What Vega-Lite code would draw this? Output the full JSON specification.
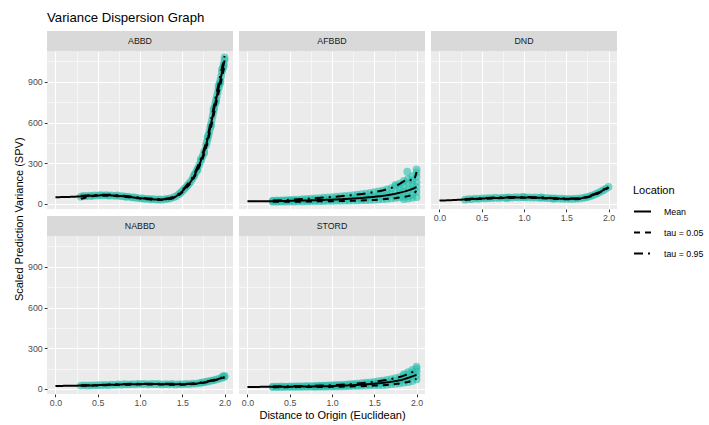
{
"$schema": "https://vega.github.io/schema/vega-lite/v6.json",
"padding": {"left": 13, "top": 10, "right": 5, "bottom": 2},
"title": {"text": "Variance Dispersion Graph", "anchor": "start", "frame": "group", "fontSize": 13.2, "fontWeight": "normal", "color": "#000000", "offset": 6},
"datasets": {
"pts": [
{"p":"ABBD","x":0.30,"y":54},{"p":"ABBD","x":0.33,"y":60},{"p":"ABBD","x":0.36,"y":57},{"p":"ABBD","x":0.40,"y":61},{"p":"ABBD","x":0.43,"y":58},{"p":"ABBD","x":0.46,"y":64},{"p":"ABBD","x":0.50,"y":62},{"p":"ABBD","x":0.53,"y":66},{"p":"ABBD","x":0.56,"y":63},{"p":"ABBD","x":0.60,"y":65},{"p":"ABBD","x":0.63,"y":61},{"p":"ABBD","x":0.66,"y":64},{"p":"ABBD","x":0.70,"y":60},{"p":"ABBD","x":0.73,"y":63},{"p":"ABBD","x":0.76,"y":58},{"p":"ABBD","x":0.80,"y":57},{"p":"ABBD","x":0.83,"y":53},{"p":"ABBD","x":0.86,"y":55},{"p":"ABBD","x":0.90,"y":49},{"p":"ABBD","x":0.93,"y":48},{"p":"ABBD","x":0.96,"y":45},{"p":"ABBD","x":1.00,"y":42},{"p":"ABBD","x":1.03,"y":41},{"p":"ABBD","x":1.06,"y":38},{"p":"ABBD","x":1.10,"y":37},{"p":"ABBD","x":1.13,"y":34},{"p":"ABBD","x":1.16,"y":35},{"p":"ABBD","x":1.20,"y":32},{"p":"ABBD","x":1.23,"y":34},{"p":"ABBD","x":1.26,"y":32},{"p":"ABBD","x":1.30,"y":36},{"p":"ABBD","x":1.33,"y":38},{"p":"ABBD","x":1.36,"y":42},{"p":"ABBD","x":1.40,"y":50},{"p":"ABBD","x":1.43,"y":58},{"p":"ABBD","x":1.46,"y":72},{"p":"ABBD","x":1.48,"y":82},{"p":"ABBD","x":1.50,"y":95},{"p":"ABBD","x":1.52,"y":108},{"p":"ABBD","x":1.54,"y":121},{"p":"ABBD","x":1.56,"y":135},{"p":"ABBD","x":1.58,"y":150},{"p":"ABBD","x":1.60,"y":165},{"p":"ABBD","x":1.62,"y":185},{"p":"ABBD","x":1.64,"y":207},{"p":"ABBD","x":1.66,"y":232},{"p":"ABBD","x":1.68,"y":259},{"p":"ABBD","x":1.70,"y":288},{"p":"ABBD","x":1.72,"y":318},{"p":"ABBD","x":1.74,"y":352},{"p":"ABBD","x":1.76,"y":390},{"p":"ABBD","x":1.78,"y":432},{"p":"ABBD","x":1.79,"y":455},{"p":"ABBD","x":1.80,"y":478},{"p":"ABBD","x":1.81,"y":505},{"p":"ABBD","x":1.82,"y":530},{"p":"ABBD","x":1.83,"y":560},{"p":"ABBD","x":1.84,"y":590},{"p":"ABBD","x":1.85,"y":620},{"p":"ABBD","x":1.86,"y":650},{"p":"ABBD","x":1.87,"y":680},{"p":"ABBD","x":1.88,"y":710},{"p":"ABBD","x":1.89,"y":740},{"p":"ABBD","x":1.90,"y":770},{"p":"ABBD","x":1.91,"y":798},{"p":"ABBD","x":1.92,"y":826},{"p":"ABBD","x":1.93,"y":855},{"p":"ABBD","x":1.94,"y":884},{"p":"ABBD","x":1.95,"y":912},{"p":"ABBD","x":1.96,"y":942},{"p":"ABBD","x":1.97,"y":972},{"p":"ABBD","x":1.98,"y":1002},{"p":"ABBD","x":1.99,"y":1032},{"p":"ABBD","x":2.00,"y":1060},{"p":"ABBD","x":2.00,"y":1080},{"p":"ABBD","x":1.99,"y":1015},{"p":"ABBD","x":1.97,"y":990},{"p":"ABBD","x":1.95,"y":895},{"p":"ABBD","x":1.93,"y":870},{"p":"ABBD","x":1.90,"y":755},{"p":"ABBD","x":1.87,"y":700},{"p":"ABBD","x":1.84,"y":575},{"p":"ABBD","x":1.80,"y":495},{"p":"ABBD","x":1.76,"y":375},{"p":"ABBD","x":1.72,"y":330},{"p":"ABBD","x":1.68,"y":250},{"p":"ABBD","x":1.64,"y":215},

{"p":"AFBBD","x":0.30,"y":17},{"p":"AFBBD","x":0.30,"y":21},{"p":"AFBBD","x":0.30,"y":25},
{"p":"AFBBD","x":0.35,"y":16},{"p":"AFBBD","x":0.35,"y":22},{"p":"AFBBD","x":0.35,"y":26},
{"p":"AFBBD","x":0.40,"y":18},{"p":"AFBBD","x":0.40,"y":22},{"p":"AFBBD","x":0.40,"y":27},
{"p":"AFBBD","x":0.45,"y":17},{"p":"AFBBD","x":0.45,"y":23},{"p":"AFBBD","x":0.45,"y":29},
{"p":"AFBBD","x":0.50,"y":18},{"p":"AFBBD","x":0.50,"y":24},{"p":"AFBBD","x":0.50,"y":30},
{"p":"AFBBD","x":0.55,"y":17},{"p":"AFBBD","x":0.55,"y":25},{"p":"AFBBD","x":0.55,"y":32},
{"p":"AFBBD","x":0.60,"y":19},{"p":"AFBBD","x":0.60,"y":24},{"p":"AFBBD","x":0.60,"y":33},
{"p":"AFBBD","x":0.65,"y":18},{"p":"AFBBD","x":0.65,"y":27},{"p":"AFBBD","x":0.65,"y":35},
{"p":"AFBBD","x":0.70,"y":19},{"p":"AFBBD","x":0.70,"y":26},{"p":"AFBBD","x":0.70,"y":37},
{"p":"AFBBD","x":0.75,"y":20},{"p":"AFBBD","x":0.75,"y":28},{"p":"AFBBD","x":0.75,"y":40},
{"p":"AFBBD","x":0.80,"y":20},{"p":"AFBBD","x":0.80,"y":29},{"p":"AFBBD","x":0.80,"y":41},
{"p":"AFBBD","x":0.85,"y":21},{"p":"AFBBD","x":0.85,"y":31},{"p":"AFBBD","x":0.85,"y":44},
{"p":"AFBBD","x":0.90,"y":21},{"p":"AFBBD","x":0.90,"y":30},{"p":"AFBBD","x":0.90,"y":46},
{"p":"AFBBD","x":0.95,"y":22},{"p":"AFBBD","x":0.95,"y":33},{"p":"AFBBD","x":0.95,"y":49},
{"p":"AFBBD","x":1.00,"y":22},{"p":"AFBBD","x":1.00,"y":34},{"p":"AFBBD","x":1.00,"y":51},
{"p":"AFBBD","x":1.05,"y":23},{"p":"AFBBD","x":1.05,"y":35},{"p":"AFBBD","x":1.05,"y":54},
{"p":"AFBBD","x":1.10,"y":23},{"p":"AFBBD","x":1.10,"y":37},{"p":"AFBBD","x":1.10,"y":56},
{"p":"AFBBD","x":1.15,"y":24},{"p":"AFBBD","x":1.15,"y":38},{"p":"AFBBD","x":1.15,"y":60},
{"p":"AFBBD","x":1.20,"y":24},{"p":"AFBBD","x":1.20,"y":40},{"p":"AFBBD","x":1.20,"y":62},
{"p":"AFBBD","x":1.25,"y":26},{"p":"AFBBD","x":1.25,"y":42},{"p":"AFBBD","x":1.25,"y":66},
{"p":"AFBBD","x":1.30,"y":26},{"p":"AFBBD","x":1.30,"y":44},{"p":"AFBBD","x":1.30,"y":69},
{"p":"AFBBD","x":1.35,"y":28},{"p":"AFBBD","x":1.35,"y":46},{"p":"AFBBD","x":1.35,"y":73},
{"p":"AFBBD","x":1.40,"y":28},{"p":"AFBBD","x":1.40,"y":49},{"p":"AFBBD","x":1.40,"y":77},
{"p":"AFBBD","x":1.45,"y":30},{"p":"AFBBD","x":1.45,"y":52},{"p":"AFBBD","x":1.45,"y":82},
{"p":"AFBBD","x":1.50,"y":31},{"p":"AFBBD","x":1.50,"y":55},{"p":"AFBBD","x":1.50,"y":87},
{"p":"AFBBD","x":1.55,"y":33},{"p":"AFBBD","x":1.55,"y":58},{"p":"AFBBD","x":1.55,"y":93},
{"p":"AFBBD","x":1.60,"y":35},{"p":"AFBBD","x":1.60,"y":62},{"p":"AFBBD","x":1.60,"y":99},
{"p":"AFBBD","x":1.65,"y":37},{"p":"AFBBD","x":1.65,"y":66},{"p":"AFBBD","x":1.65,"y":108},
{"p":"AFBBD","x":1.70,"y":41},{"p":"AFBBD","x":1.70,"y":72},{"p":"AFBBD","x":1.70,"y":117},
{"p":"AFBBD","x":1.75,"y":44},{"p":"AFBBD","x":1.75,"y":78},{"p":"AFBBD","x":1.75,"y":130},{"p":"AFBBD","x":1.75,"y":140},
{"p":"AFBBD","x":1.80,"y":48},{"p":"AFBBD","x":1.80,"y":85},{"p":"AFBBD","x":1.80,"y":120},{"p":"AFBBD","x":1.80,"y":150},
{"p":"AFBBD","x":1.85,"y":35},{"p":"AFBBD","x":1.85,"y":53},{"p":"AFBBD","x":1.85,"y":92},{"p":"AFBBD","x":1.85,"y":135},{"p":"AFBBD","x":1.85,"y":170},
{"p":"AFBBD","x":1.90,"y":40},{"p":"AFBBD","x":1.90,"y":58},{"p":"AFBBD","x":1.90,"y":100},{"p":"AFBBD","x":1.90,"y":150},{"p":"AFBBD","x":1.90,"y":185},{"p":"AFBBD","x":1.89,"y":238},
{"p":"AFBBD","x":1.95,"y":45},{"p":"AFBBD","x":1.95,"y":68},{"p":"AFBBD","x":1.95,"y":110},{"p":"AFBBD","x":1.95,"y":145},{"p":"AFBBD","x":1.95,"y":172},{"p":"AFBBD","x":1.95,"y":205},
{"p":"AFBBD","x":2.00,"y":50},{"p":"AFBBD","x":2.00,"y":90},{"p":"AFBBD","x":2.00,"y":125},{"p":"AFBBD","x":2.00,"y":160},{"p":"AFBBD","x":2.00,"y":200},{"p":"AFBBD","x":2.00,"y":232},{"p":"AFBBD","x":2.00,"y":255},

{"p":"DND","x":0.30,"y":32},{"p":"DND","x":0.34,"y":35},{"p":"DND","x":0.38,"y":36},{"p":"DND","x":0.42,"y":40},{"p":"DND","x":0.46,"y":38},{"p":"DND","x":0.50,"y":42},{"p":"DND","x":0.54,"y":41},{"p":"DND","x":0.58,"y":44},{"p":"DND","x":0.62,"y":43},{"p":"DND","x":0.66,"y":46},{"p":"DND","x":0.70,"y":44},{"p":"DND","x":0.74,"y":47},{"p":"DND","x":0.78,"y":46},{"p":"DND","x":0.80,"y":43},{"p":"DND","x":0.82,"y":49},{"p":"DND","x":0.86,"y":47},{"p":"DND","x":0.90,"y":50},{"p":"DND","x":0.94,"y":48},{"p":"DND","x":0.98,"y":50},{"p":"DND","x":1.00,"y":53},{"p":"DND","x":1.02,"y":47},{"p":"DND","x":1.06,"y":49},{"p":"DND","x":1.10,"y":46},{"p":"DND","x":1.14,"y":48},{"p":"DND","x":1.18,"y":45},{"p":"DND","x":1.20,"y":49},{"p":"DND","x":1.22,"y":46},{"p":"DND","x":1.26,"y":43},{"p":"DND","x":1.30,"y":44},{"p":"DND","x":1.34,"y":41},{"p":"DND","x":1.35,"y":38},{"p":"DND","x":1.38,"y":42},{"p":"DND","x":1.42,"y":39},{"p":"DND","x":1.46,"y":39},{"p":"DND","x":1.50,"y":37},{"p":"DND","x":1.54,"y":38},{"p":"DND","x":1.58,"y":37},{"p":"DND","x":1.62,"y":39},{"p":"DND","x":1.66,"y":41},{"p":"DND","x":1.70,"y":45},{"p":"DND","x":1.73,"y":48},{"p":"DND","x":1.76,"y":53},{"p":"DND","x":1.79,"y":59},{"p":"DND","x":1.82,"y":66},{"p":"DND","x":1.85,"y":74},{"p":"DND","x":1.88,"y":82},{"p":"DND","x":1.91,"y":92},{"p":"DND","x":1.94,"y":102},{"p":"DND","x":1.97,"y":114},{"p":"DND","x":2.00,"y":126},

{"p":"NABBD","x":0.30,"y":25},{"p":"NABBD","x":0.34,"y":27},{"p":"NABBD","x":0.38,"y":24},{"p":"NABBD","x":0.42,"y":27},{"p":"NABBD","x":0.46,"y":26},{"p":"NABBD","x":0.50,"y":29},{"p":"NABBD","x":0.54,"y":28},{"p":"NABBD","x":0.58,"y":31},{"p":"NABBD","x":0.62,"y":29},{"p":"NABBD","x":0.66,"y":32},{"p":"NABBD","x":0.70,"y":31},{"p":"NABBD","x":0.74,"y":34},{"p":"NABBD","x":0.78,"y":32},{"p":"NABBD","x":0.82,"y":35},{"p":"NABBD","x":0.86,"y":33},{"p":"NABBD","x":0.90,"y":36},{"p":"NABBD","x":0.94,"y":34},{"p":"NABBD","x":0.98,"y":38},{"p":"NABBD","x":1.02,"y":35},{"p":"NABBD","x":1.06,"y":38},{"p":"NABBD","x":1.10,"y":34},{"p":"NABBD","x":1.14,"y":38},{"p":"NABBD","x":1.18,"y":35},{"p":"NABBD","x":1.22,"y":37},{"p":"NABBD","x":1.26,"y":33},{"p":"NABBD","x":1.30,"y":36},{"p":"NABBD","x":1.34,"y":34},{"p":"NABBD","x":1.38,"y":37},{"p":"NABBD","x":1.42,"y":33},{"p":"NABBD","x":1.46,"y":36},{"p":"NABBD","x":1.50,"y":34},{"p":"NABBD","x":1.54,"y":37},{"p":"NABBD","x":1.58,"y":36},{"p":"NABBD","x":1.62,"y":39},{"p":"NABBD","x":1.66,"y":40},{"p":"NABBD","x":1.70,"y":44},{"p":"NABBD","x":1.73,"y":46},{"p":"NABBD","x":1.76,"y":50},{"p":"NABBD","x":1.79,"y":54},{"p":"NABBD","x":1.82,"y":58},{"p":"NABBD","x":1.85,"y":62},{"p":"NABBD","x":1.88,"y":66},{"p":"NABBD","x":1.91,"y":71},{"p":"NABBD","x":1.94,"y":77},{"p":"NABBD","x":1.97,"y":83},{"p":"NABBD","x":1.98,"y":92},{"p":"NABBD","x":2.00,"y":90},{"p":"NABBD","x":2.00,"y":96},

{"p":"STORD","x":0.30,"y":14},{"p":"STORD","x":0.30,"y":18},
{"p":"STORD","x":0.35,"y":15},{"p":"STORD","x":0.35,"y":17},
{"p":"STORD","x":0.40,"y":14},{"p":"STORD","x":0.40,"y":19},
{"p":"STORD","x":0.45,"y":16},{"p":"STORD","x":0.45,"y":18},
{"p":"STORD","x":0.50,"y":15},{"p":"STORD","x":0.50,"y":20},
{"p":"STORD","x":0.55,"y":16},{"p":"STORD","x":0.55,"y":19},
{"p":"STORD","x":0.60,"y":15},{"p":"STORD","x":0.60,"y":21},
{"p":"STORD","x":0.65,"y":17},{"p":"STORD","x":0.65,"y":20},
{"p":"STORD","x":0.70,"y":16},{"p":"STORD","x":0.70,"y":22},
{"p":"STORD","x":0.75,"y":17},{"p":"STORD","x":0.75,"y":21},
{"p":"STORD","x":0.80,"y":16},{"p":"STORD","x":0.80,"y":20},{"p":"STORD","x":0.80,"y":23},
{"p":"STORD","x":0.85,"y":17},{"p":"STORD","x":0.85,"y":21},{"p":"STORD","x":0.85,"y":24},
{"p":"STORD","x":0.90,"y":17},{"p":"STORD","x":0.90,"y":22},{"p":"STORD","x":0.90,"y":25},
{"p":"STORD","x":0.95,"y":18},{"p":"STORD","x":0.95,"y":23},{"p":"STORD","x":0.95,"y":27},
{"p":"STORD","x":1.00,"y":18},{"p":"STORD","x":1.00,"y":23},{"p":"STORD","x":1.00,"y":28},
{"p":"STORD","x":1.05,"y":19},{"p":"STORD","x":1.05,"y":24},{"p":"STORD","x":1.05,"y":30},
{"p":"STORD","x":1.10,"y":19},{"p":"STORD","x":1.10,"y":26},{"p":"STORD","x":1.10,"y":31},
{"p":"STORD","x":1.15,"y":20},{"p":"STORD","x":1.15,"y":27},{"p":"STORD","x":1.15,"y":33},
{"p":"STORD","x":1.20,"y":21},{"p":"STORD","x":1.20,"y":28},{"p":"STORD","x":1.20,"y":35},
{"p":"STORD","x":1.25,"y":22},{"p":"STORD","x":1.25,"y":30},{"p":"STORD","x":1.25,"y":37},
{"p":"STORD","x":1.30,"y":22},{"p":"STORD","x":1.30,"y":31},{"p":"STORD","x":1.30,"y":40},
{"p":"STORD","x":1.35,"y":23},{"p":"STORD","x":1.35,"y":33},{"p":"STORD","x":1.35,"y":43},
{"p":"STORD","x":1.40,"y":24},{"p":"STORD","x":1.40,"y":35},{"p":"STORD","x":1.40,"y":46},
{"p":"STORD","x":1.45,"y":26},{"p":"STORD","x":1.45,"y":37},{"p":"STORD","x":1.45,"y":49},
{"p":"STORD","x":1.50,"y":27},{"p":"STORD","x":1.50,"y":40},{"p":"STORD","x":1.50,"y":53},
{"p":"STORD","x":1.55,"y":28},{"p":"STORD","x":1.55,"y":42},{"p":"STORD","x":1.55,"y":57},
{"p":"STORD","x":1.60,"y":30},{"p":"STORD","x":1.60,"y":46},{"p":"STORD","x":1.60,"y":62},
{"p":"STORD","x":1.65,"y":32},{"p":"STORD","x":1.65,"y":49},{"p":"STORD","x":1.65,"y":67},
{"p":"STORD","x":1.70,"y":35},{"p":"STORD","x":1.70,"y":54},{"p":"STORD","x":1.70,"y":73},
{"p":"STORD","x":1.75,"y":38},{"p":"STORD","x":1.75,"y":58},{"p":"STORD","x":1.75,"y":80},
{"p":"STORD","x":1.80,"y":42},{"p":"STORD","x":1.80,"y":65},{"p":"STORD","x":1.80,"y":88},
{"p":"STORD","x":1.85,"y":46},{"p":"STORD","x":1.85,"y":72},{"p":"STORD","x":1.85,"y":98},{"p":"STORD","x":1.85,"y":110},
{"p":"STORD","x":1.90,"y":50},{"p":"STORD","x":1.90,"y":80},{"p":"STORD","x":1.90,"y":108},{"p":"STORD","x":1.90,"y":125},
{"p":"STORD","x":1.95,"y":58},{"p":"STORD","x":1.95,"y":92},{"p":"STORD","x":1.95,"y":122},{"p":"STORD","x":1.95,"y":140},
{"p":"STORD","x":2.00,"y":70},{"p":"STORD","x":2.00,"y":100},{"p":"STORD","x":2.00,"y":130},{"p":"STORD","x":2.00,"y":150},{"p":"STORD","x":2.00,"y":165}
],
"lines": [
{"p":"ABBD","loc":"Mean","x":0,"y":50},{"p":"ABBD","loc":"Mean","x":0.1,"y":51},{"p":"ABBD","loc":"Mean","x":0.2,"y":53},{"p":"ABBD","loc":"Mean","x":0.3,"y":56},{"p":"ABBD","loc":"Mean","x":0.4,"y":60},{"p":"ABBD","loc":"Mean","x":0.5,"y":63},{"p":"ABBD","loc":"Mean","x":0.6,"y":64},{"p":"ABBD","loc":"Mean","x":0.7,"y":62},{"p":"ABBD","loc":"Mean","x":0.8,"y":57},{"p":"ABBD","loc":"Mean","x":0.9,"y":50},{"p":"ABBD","loc":"Mean","x":1.0,"y":43},{"p":"ABBD","loc":"Mean","x":1.1,"y":37},{"p":"ABBD","loc":"Mean","x":1.2,"y":33},{"p":"ABBD","loc":"Mean","x":1.3,"y":35},{"p":"ABBD","loc":"Mean","x":1.4,"y":48},{"p":"ABBD","loc":"Mean","x":1.45,"y":66},{"p":"ABBD","loc":"Mean","x":1.5,"y":93},{"p":"ABBD","loc":"Mean","x":1.55,"y":128},{"p":"ABBD","loc":"Mean","x":1.6,"y":165},{"p":"ABBD","loc":"Mean","x":1.65,"y":219},{"p":"ABBD","loc":"Mean","x":1.7,"y":288},{"p":"ABBD","loc":"Mean","x":1.75,"y":370},{"p":"ABBD","loc":"Mean","x":1.8,"y":478},{"p":"ABBD","loc":"Mean","x":1.85,"y":620},{"p":"ABBD","loc":"Mean","x":1.9,"y":770},{"p":"ABBD","loc":"Mean","x":1.95,"y":912},{"p":"ABBD","loc":"Mean","x":2.0,"y":1058},
{"p":"ABBD","loc":"tau = 0.05","x":0.3,"y":38},{"p":"ABBD","loc":"tau = 0.05","x":0.35,"y":46},{"p":"ABBD","loc":"tau = 0.05","x":0.4,"y":55},{"p":"ABBD","loc":"tau = 0.05","x":0.5,"y":60},{"p":"ABBD","loc":"tau = 0.05","x":0.6,"y":61},{"p":"ABBD","loc":"tau = 0.05","x":0.7,"y":59},{"p":"ABBD","loc":"tau = 0.05","x":0.8,"y":54},{"p":"ABBD","loc":"tau = 0.05","x":0.9,"y":47},{"p":"ABBD","loc":"tau = 0.05","x":1.0,"y":40},{"p":"ABBD","loc":"tau = 0.05","x":1.1,"y":34},{"p":"ABBD","loc":"tau = 0.05","x":1.2,"y":30},{"p":"ABBD","loc":"tau = 0.05","x":1.3,"y":32},{"p":"ABBD","loc":"tau = 0.05","x":1.4,"y":44},{"p":"ABBD","loc":"tau = 0.05","x":1.45,"y":60},{"p":"ABBD","loc":"tau = 0.05","x":1.5,"y":86},{"p":"ABBD","loc":"tau = 0.05","x":1.55,"y":119},{"p":"ABBD","loc":"tau = 0.05","x":1.6,"y":155},{"p":"ABBD","loc":"tau = 0.05","x":1.65,"y":206},{"p":"ABBD","loc":"tau = 0.05","x":1.7,"y":272},{"p":"ABBD","loc":"tau = 0.05","x":1.75,"y":350},{"p":"ABBD","loc":"tau = 0.05","x":1.8,"y":455},{"p":"ABBD","loc":"tau = 0.05","x":1.85,"y":592},{"p":"ABBD","loc":"tau = 0.05","x":1.9,"y":738},{"p":"ABBD","loc":"tau = 0.05","x":1.95,"y":876},{"p":"ABBD","loc":"tau = 0.05","x":2.0,"y":1020},
{"p":"ABBD","loc":"tau = 0.95","x":0.3,"y":60},{"p":"ABBD","loc":"tau = 0.95","x":0.4,"y":64},{"p":"ABBD","loc":"tau = 0.95","x":0.5,"y":67},{"p":"ABBD","loc":"tau = 0.95","x":0.6,"y":68},{"p":"ABBD","loc":"tau = 0.95","x":0.7,"y":66},{"p":"ABBD","loc":"tau = 0.95","x":0.8,"y":61},{"p":"ABBD","loc":"tau = 0.95","x":0.9,"y":54},{"p":"ABBD","loc":"tau = 0.95","x":1.0,"y":47},{"p":"ABBD","loc":"tau = 0.95","x":1.1,"y":41},{"p":"ABBD","loc":"tau = 0.95","x":1.2,"y":37},{"p":"ABBD","loc":"tau = 0.95","x":1.3,"y":39},{"p":"ABBD","loc":"tau = 0.95","x":1.4,"y":53},{"p":"ABBD","loc":"tau = 0.95","x":1.45,"y":72},{"p":"ABBD","loc":"tau = 0.95","x":1.5,"y":100},{"p":"ABBD","loc":"tau = 0.95","x":1.55,"y":137},{"p":"ABBD","loc":"tau = 0.95","x":1.6,"y":176},{"p":"ABBD","loc":"tau = 0.95","x":1.65,"y":232},{"p":"ABBD","loc":"tau = 0.95","x":1.7,"y":304},{"p":"ABBD","loc":"tau = 0.95","x":1.75,"y":390},{"p":"ABBD","loc":"tau = 0.95","x":1.8,"y":500},{"p":"ABBD","loc":"tau = 0.95","x":1.85,"y":648},{"p":"ABBD","loc":"tau = 0.95","x":1.9,"y":800},{"p":"ABBD","loc":"tau = 0.95","x":1.95,"y":946},{"p":"ABBD","loc":"tau = 0.95","x":2.0,"y":1090},

{"p":"AFBBD","loc":"Mean","x":0,"y":20},{"p":"AFBBD","loc":"Mean","x":0.1,"y":20},{"p":"AFBBD","loc":"Mean","x":0.2,"y":21},{"p":"AFBBD","loc":"Mean","x":0.3,"y":21},{"p":"AFBBD","loc":"Mean","x":0.4,"y":22},{"p":"AFBBD","loc":"Mean","x":0.5,"y":23},{"p":"AFBBD","loc":"Mean","x":0.6,"y":24},{"p":"AFBBD","loc":"Mean","x":0.7,"y":26},{"p":"AFBBD","loc":"Mean","x":0.8,"y":28},{"p":"AFBBD","loc":"Mean","x":0.9,"y":30},{"p":"AFBBD","loc":"Mean","x":1.0,"y":32},{"p":"AFBBD","loc":"Mean","x":1.1,"y":35},{"p":"AFBBD","loc":"Mean","x":1.2,"y":38},{"p":"AFBBD","loc":"Mean","x":1.3,"y":42},{"p":"AFBBD","loc":"Mean","x":1.4,"y":47},{"p":"AFBBD","loc":"Mean","x":1.5,"y":53},{"p":"AFBBD","loc":"Mean","x":1.6,"y":60},{"p":"AFBBD","loc":"Mean","x":1.7,"y":70},{"p":"AFBBD","loc":"Mean","x":1.75,"y":76},{"p":"AFBBD","loc":"Mean","x":1.8,"y":83},{"p":"AFBBD","loc":"Mean","x":1.85,"y":91},{"p":"AFBBD","loc":"Mean","x":1.9,"y":100},{"p":"AFBBD","loc":"Mean","x":1.95,"y":111},{"p":"AFBBD","loc":"Mean","x":2.0,"y":125},
{"p":"AFBBD","loc":"tau = 0.05","x":0.3,"y":16},{"p":"AFBBD","loc":"tau = 0.05","x":0.4,"y":16},{"p":"AFBBD","loc":"tau = 0.05","x":0.5,"y":17},{"p":"AFBBD","loc":"tau = 0.05","x":0.6,"y":17},{"p":"AFBBD","loc":"tau = 0.05","x":0.7,"y":18},{"p":"AFBBD","loc":"tau = 0.05","x":0.8,"y":19},{"p":"AFBBD","loc":"tau = 0.05","x":0.9,"y":20},{"p":"AFBBD","loc":"tau = 0.05","x":1.0,"y":21},{"p":"AFBBD","loc":"tau = 0.05","x":1.1,"y":22},{"p":"AFBBD","loc":"tau = 0.05","x":1.2,"y":23},{"p":"AFBBD","loc":"tau = 0.05","x":1.3,"y":25},{"p":"AFBBD","loc":"tau = 0.05","x":1.4,"y":27},{"p":"AFBBD","loc":"tau = 0.05","x":1.5,"y":30},{"p":"AFBBD","loc":"tau = 0.05","x":1.6,"y":34},{"p":"AFBBD","loc":"tau = 0.05","x":1.7,"y":40},{"p":"AFBBD","loc":"tau = 0.05","x":1.75,"y":43},{"p":"AFBBD","loc":"tau = 0.05","x":1.8,"y":47},{"p":"AFBBD","loc":"tau = 0.05","x":1.85,"y":52},{"p":"AFBBD","loc":"tau = 0.05","x":1.9,"y":58},{"p":"AFBBD","loc":"tau = 0.05","x":1.95,"y":70},{"p":"AFBBD","loc":"tau = 0.05","x":2.0,"y":95},
{"p":"AFBBD","loc":"tau = 0.95","x":0.3,"y":26},{"p":"AFBBD","loc":"tau = 0.95","x":0.4,"y":28},{"p":"AFBBD","loc":"tau = 0.95","x":0.5,"y":31},{"p":"AFBBD","loc":"tau = 0.95","x":0.6,"y":34},{"p":"AFBBD","loc":"tau = 0.95","x":0.7,"y":38},{"p":"AFBBD","loc":"tau = 0.95","x":0.8,"y":42},{"p":"AFBBD","loc":"tau = 0.95","x":0.9,"y":47},{"p":"AFBBD","loc":"tau = 0.95","x":1.0,"y":52},{"p":"AFBBD","loc":"tau = 0.95","x":1.1,"y":57},{"p":"AFBBD","loc":"tau = 0.95","x":1.2,"y":63},{"p":"AFBBD","loc":"tau = 0.95","x":1.3,"y":70},{"p":"AFBBD","loc":"tau = 0.95","x":1.4,"y":78},{"p":"AFBBD","loc":"tau = 0.95","x":1.5,"y":88},{"p":"AFBBD","loc":"tau = 0.95","x":1.6,"y":100},{"p":"AFBBD","loc":"tau = 0.95","x":1.7,"y":118},{"p":"AFBBD","loc":"tau = 0.95","x":1.75,"y":130},{"p":"AFBBD","loc":"tau = 0.95","x":1.8,"y":148},{"p":"AFBBD","loc":"tau = 0.95","x":1.85,"y":168},{"p":"AFBBD","loc":"tau = 0.95","x":1.88,"y":180},{"p":"AFBBD","loc":"tau = 0.95","x":1.92,"y":178},{"p":"AFBBD","loc":"tau = 0.95","x":1.96,"y":170},{"p":"AFBBD","loc":"tau = 0.95","x":2.0,"y":235},

{"p":"DND","loc":"Mean","x":0,"y":25},{"p":"DND","loc":"Mean","x":0.1,"y":27},{"p":"DND","loc":"Mean","x":0.2,"y":30},{"p":"DND","loc":"Mean","x":0.3,"y":33},{"p":"DND","loc":"Mean","x":0.4,"y":37},{"p":"DND","loc":"Mean","x":0.5,"y":40},{"p":"DND","loc":"Mean","x":0.6,"y":43},{"p":"DND","loc":"Mean","x":0.7,"y":45},{"p":"DND","loc":"Mean","x":0.8,"y":47},{"p":"DND","loc":"Mean","x":0.9,"y":48},{"p":"DND","loc":"Mean","x":1.0,"y":48},{"p":"DND","loc":"Mean","x":1.1,"y":47},{"p":"DND","loc":"Mean","x":1.2,"y":46},{"p":"DND","loc":"Mean","x":1.3,"y":43},{"p":"DND","loc":"Mean","x":1.4,"y":40},{"p":"DND","loc":"Mean","x":1.5,"y":38},{"p":"DND","loc":"Mean","x":1.6,"y":38},{"p":"DND","loc":"Mean","x":1.65,"y":40},{"p":"DND","loc":"Mean","x":1.7,"y":45},{"p":"DND","loc":"Mean","x":1.75,"y":52},{"p":"DND","loc":"Mean","x":1.8,"y":62},{"p":"DND","loc":"Mean","x":1.85,"y":74},{"p":"DND","loc":"Mean","x":1.9,"y":89},{"p":"DND","loc":"Mean","x":1.95,"y":106},{"p":"DND","loc":"Mean","x":2.0,"y":125},
{"p":"DND","loc":"tau = 0.05","x":0.3,"y":30},{"p":"DND","loc":"tau = 0.05","x":0.4,"y":34},{"p":"DND","loc":"tau = 0.05","x":0.5,"y":37},{"p":"DND","loc":"tau = 0.05","x":0.6,"y":40},{"p":"DND","loc":"tau = 0.05","x":0.7,"y":42},{"p":"DND","loc":"tau = 0.05","x":0.8,"y":44},{"p":"DND","loc":"tau = 0.05","x":0.9,"y":45},{"p":"DND","loc":"tau = 0.05","x":1.0,"y":45},{"p":"DND","loc":"tau = 0.05","x":1.1,"y":44},{"p":"DND","loc":"tau = 0.05","x":1.2,"y":43},{"p":"DND","loc":"tau = 0.05","x":1.3,"y":40},{"p":"DND","loc":"tau = 0.05","x":1.4,"y":37},{"p":"DND","loc":"tau = 0.05","x":1.5,"y":35},{"p":"DND","loc":"tau = 0.05","x":1.6,"y":35},{"p":"DND","loc":"tau = 0.05","x":1.65,"y":37},{"p":"DND","loc":"tau = 0.05","x":1.7,"y":42},{"p":"DND","loc":"tau = 0.05","x":1.75,"y":49},{"p":"DND","loc":"tau = 0.05","x":1.8,"y":58},{"p":"DND","loc":"tau = 0.05","x":1.85,"y":70},{"p":"DND","loc":"tau = 0.05","x":1.9,"y":85},{"p":"DND","loc":"tau = 0.05","x":1.95,"y":101},{"p":"DND","loc":"tau = 0.05","x":2.0,"y":120},
{"p":"DND","loc":"tau = 0.95","x":0.3,"y":36},{"p":"DND","loc":"tau = 0.95","x":0.4,"y":40},{"p":"DND","loc":"tau = 0.95","x":0.5,"y":43},{"p":"DND","loc":"tau = 0.95","x":0.6,"y":46},{"p":"DND","loc":"tau = 0.95","x":0.7,"y":48},{"p":"DND","loc":"tau = 0.95","x":0.8,"y":50},{"p":"DND","loc":"tau = 0.95","x":0.9,"y":51},{"p":"DND","loc":"tau = 0.95","x":1.0,"y":51},{"p":"DND","loc":"tau = 0.95","x":1.1,"y":50},{"p":"DND","loc":"tau = 0.95","x":1.2,"y":49},{"p":"DND","loc":"tau = 0.95","x":1.3,"y":46},{"p":"DND","loc":"tau = 0.95","x":1.4,"y":43},{"p":"DND","loc":"tau = 0.95","x":1.5,"y":41},{"p":"DND","loc":"tau = 0.95","x":1.6,"y":41},{"p":"DND","loc":"tau = 0.95","x":1.65,"y":43},{"p":"DND","loc":"tau = 0.95","x":1.7,"y":48},{"p":"DND","loc":"tau = 0.95","x":1.75,"y":55},{"p":"DND","loc":"tau = 0.95","x":1.8,"y":66},{"p":"DND","loc":"tau = 0.95","x":1.85,"y":78},{"p":"DND","loc":"tau = 0.95","x":1.9,"y":93},{"p":"DND","loc":"tau = 0.95","x":1.95,"y":111},{"p":"DND","loc":"tau = 0.95","x":2.0,"y":130},

{"p":"NABBD","loc":"Mean","x":0,"y":22},{"p":"NABBD","loc":"Mean","x":0.1,"y":23},{"p":"NABBD","loc":"Mean","x":0.2,"y":24},{"p":"NABBD","loc":"Mean","x":0.3,"y":25},{"p":"NABBD","loc":"Mean","x":0.4,"y":26},{"p":"NABBD","loc":"Mean","x":0.5,"y":28},{"p":"NABBD","loc":"Mean","x":0.6,"y":30},{"p":"NABBD","loc":"Mean","x":0.7,"y":32},{"p":"NABBD","loc":"Mean","x":0.8,"y":34},{"p":"NABBD","loc":"Mean","x":0.9,"y":35},{"p":"NABBD","loc":"Mean","x":1.0,"y":36},{"p":"NABBD","loc":"Mean","x":1.1,"y":36},{"p":"NABBD","loc":"Mean","x":1.2,"y":36},{"p":"NABBD","loc":"Mean","x":1.3,"y":35},{"p":"NABBD","loc":"Mean","x":1.4,"y":35},{"p":"NABBD","loc":"Mean","x":1.5,"y":35},{"p":"NABBD","loc":"Mean","x":1.6,"y":37},{"p":"NABBD","loc":"Mean","x":1.65,"y":39},{"p":"NABBD","loc":"Mean","x":1.7,"y":43},{"p":"NABBD","loc":"Mean","x":1.75,"y":48},{"p":"NABBD","loc":"Mean","x":1.8,"y":54},{"p":"NABBD","loc":"Mean","x":1.85,"y":61},{"p":"NABBD","loc":"Mean","x":1.9,"y":69},{"p":"NABBD","loc":"Mean","x":1.95,"y":78},{"p":"NABBD","loc":"Mean","x":2.0,"y":88},
{"p":"NABBD","loc":"tau = 0.05","x":0.3,"y":23},{"p":"NABBD","loc":"tau = 0.05","x":0.4,"y":24},{"p":"NABBD","loc":"tau = 0.05","x":0.5,"y":26},{"p":"NABBD","loc":"tau = 0.05","x":0.6,"y":28},{"p":"NABBD","loc":"tau = 0.05","x":0.7,"y":30},{"p":"NABBD","loc":"tau = 0.05","x":0.8,"y":31},{"p":"NABBD","loc":"tau = 0.05","x":0.9,"y":32},{"p":"NABBD","loc":"tau = 0.05","x":1.0,"y":33},{"p":"NABBD","loc":"tau = 0.05","x":1.1,"y":33},{"p":"NABBD","loc":"tau = 0.05","x":1.2,"y":33},{"p":"NABBD","loc":"tau = 0.05","x":1.3,"y":32},{"p":"NABBD","loc":"tau = 0.05","x":1.4,"y":32},{"p":"NABBD","loc":"tau = 0.05","x":1.5,"y":32},{"p":"NABBD","loc":"tau = 0.05","x":1.6,"y":34},{"p":"NABBD","loc":"tau = 0.05","x":1.65,"y":36},{"p":"NABBD","loc":"tau = 0.05","x":1.7,"y":40},{"p":"NABBD","loc":"tau = 0.05","x":1.75,"y":45},{"p":"NABBD","loc":"tau = 0.05","x":1.8,"y":51},{"p":"NABBD","loc":"tau = 0.05","x":1.85,"y":58},{"p":"NABBD","loc":"tau = 0.05","x":1.9,"y":66},{"p":"NABBD","loc":"tau = 0.05","x":1.95,"y":75},{"p":"NABBD","loc":"tau = 0.05","x":2.0,"y":85},
{"p":"NABBD","loc":"tau = 0.95","x":0.3,"y":27},{"p":"NABBD","loc":"tau = 0.95","x":0.4,"y":28},{"p":"NABBD","loc":"tau = 0.95","x":0.5,"y":30},{"p":"NABBD","loc":"tau = 0.95","x":0.6,"y":32},{"p":"NABBD","loc":"tau = 0.95","x":0.7,"y":34},{"p":"NABBD","loc":"tau = 0.95","x":0.8,"y":36},{"p":"NABBD","loc":"tau = 0.95","x":0.9,"y":38},{"p":"NABBD","loc":"tau = 0.95","x":1.0,"y":39},{"p":"NABBD","loc":"tau = 0.95","x":1.1,"y":39},{"p":"NABBD","loc":"tau = 0.95","x":1.2,"y":39},{"p":"NABBD","loc":"tau = 0.95","x":1.3,"y":38},{"p":"NABBD","loc":"tau = 0.95","x":1.4,"y":38},{"p":"NABBD","loc":"tau = 0.95","x":1.5,"y":38},{"p":"NABBD","loc":"tau = 0.95","x":1.6,"y":40},{"p":"NABBD","loc":"tau = 0.95","x":1.65,"y":42},{"p":"NABBD","loc":"tau = 0.95","x":1.7,"y":46},{"p":"NABBD","loc":"tau = 0.95","x":1.75,"y":51},{"p":"NABBD","loc":"tau = 0.95","x":1.8,"y":57},{"p":"NABBD","loc":"tau = 0.95","x":1.85,"y":64},{"p":"NABBD","loc":"tau = 0.95","x":1.9,"y":72},{"p":"NABBD","loc":"tau = 0.95","x":1.95,"y":81},{"p":"NABBD","loc":"tau = 0.95","x":2.0,"y":91},

{"p":"STORD","loc":"Mean","x":0,"y":15},{"p":"STORD","loc":"Mean","x":0.1,"y":15},{"p":"STORD","loc":"Mean","x":0.2,"y":16},{"p":"STORD","loc":"Mean","x":0.3,"y":16},{"p":"STORD","loc":"Mean","x":0.4,"y":17},{"p":"STORD","loc":"Mean","x":0.5,"y":17},{"p":"STORD","loc":"Mean","x":0.6,"y":18},{"p":"STORD","loc":"Mean","x":0.7,"y":18},{"p":"STORD","loc":"Mean","x":0.8,"y":19},{"p":"STORD","loc":"Mean","x":0.9,"y":20},{"p":"STORD","loc":"Mean","x":1.0,"y":22},{"p":"STORD","loc":"Mean","x":1.1,"y":24},{"p":"STORD","loc":"Mean","x":1.2,"y":27},{"p":"STORD","loc":"Mean","x":1.3,"y":30},{"p":"STORD","loc":"Mean","x":1.4,"y":34},{"p":"STORD","loc":"Mean","x":1.5,"y":39},{"p":"STORD","loc":"Mean","x":1.6,"y":45},{"p":"STORD","loc":"Mean","x":1.7,"y":53},{"p":"STORD","loc":"Mean","x":1.75,"y":58},{"p":"STORD","loc":"Mean","x":1.8,"y":64},{"p":"STORD","loc":"Mean","x":1.85,"y":72},{"p":"STORD","loc":"Mean","x":1.9,"y":82},{"p":"STORD","loc":"Mean","x":1.95,"y":93},{"p":"STORD","loc":"Mean","x":2.0,"y":105},
{"p":"STORD","loc":"tau = 0.05","x":0.3,"y":13},{"p":"STORD","loc":"tau = 0.05","x":0.4,"y":13},{"p":"STORD","loc":"tau = 0.05","x":0.5,"y":14},{"p":"STORD","loc":"tau = 0.05","x":0.6,"y":14},{"p":"STORD","loc":"tau = 0.05","x":0.7,"y":14},{"p":"STORD","loc":"tau = 0.05","x":0.8,"y":15},{"p":"STORD","loc":"tau = 0.05","x":0.9,"y":15},{"p":"STORD","loc":"tau = 0.05","x":1.0,"y":16},{"p":"STORD","loc":"tau = 0.05","x":1.1,"y":17},{"p":"STORD","loc":"tau = 0.05","x":1.2,"y":18},{"p":"STORD","loc":"tau = 0.05","x":1.3,"y":20},{"p":"STORD","loc":"tau = 0.05","x":1.4,"y":22},{"p":"STORD","loc":"tau = 0.05","x":1.5,"y":25},{"p":"STORD","loc":"tau = 0.05","x":1.6,"y":28},{"p":"STORD","loc":"tau = 0.05","x":1.7,"y":33},{"p":"STORD","loc":"tau = 0.05","x":1.75,"y":37},{"p":"STORD","loc":"tau = 0.05","x":1.8,"y":41},{"p":"STORD","loc":"tau = 0.05","x":1.85,"y":46},{"p":"STORD","loc":"tau = 0.05","x":1.9,"y":52},{"p":"STORD","loc":"tau = 0.05","x":1.95,"y":62},{"p":"STORD","loc":"tau = 0.05","x":2.0,"y":75},
{"p":"STORD","loc":"tau = 0.95","x":0.3,"y":19},{"p":"STORD","loc":"tau = 0.95","x":0.4,"y":20},{"p":"STORD","loc":"tau = 0.95","x":0.5,"y":21},{"p":"STORD","loc":"tau = 0.95","x":0.6,"y":22},{"p":"STORD","loc":"tau = 0.95","x":0.7,"y":23},{"p":"STORD","loc":"tau = 0.95","x":0.8,"y":24},{"p":"STORD","loc":"tau = 0.95","x":0.9,"y":26},{"p":"STORD","loc":"tau = 0.95","x":1.0,"y":28},{"p":"STORD","loc":"tau = 0.95","x":1.1,"y":31},{"p":"STORD","loc":"tau = 0.95","x":1.2,"y":35},{"p":"STORD","loc":"tau = 0.95","x":1.3,"y":40},{"p":"STORD","loc":"tau = 0.95","x":1.4,"y":46},{"p":"STORD","loc":"tau = 0.95","x":1.5,"y":53},{"p":"STORD","loc":"tau = 0.95","x":1.6,"y":62},{"p":"STORD","loc":"tau = 0.95","x":1.7,"y":73},{"p":"STORD","loc":"tau = 0.95","x":1.75,"y":80},{"p":"STORD","loc":"tau = 0.95","x":1.8,"y":88},{"p":"STORD","loc":"tau = 0.95","x":1.85,"y":98},{"p":"STORD","loc":"tau = 0.95","x":1.9,"y":110},{"p":"STORD","loc":"tau = 0.95","x":1.95,"y":124},{"p":"STORD","loc":"tau = 0.95","x":2.0,"y":145}
]
},
"hconcat": [
{
"title": {"text": "Scaled Prediction Variance (SPV)", "orient": "left", "anchor": "middle", "frame": "bounds", "fontSize": 11, "fontWeight": "normal", "color": "#000000", "offset": 3},
"spacing": 7,
"vconcat": [
{"spacing": 0, "vconcat": [
{"width": 186, "height": 20, "view": {"fill": "#D9D9D9", "stroke": null}, "data": {"values": [{"p": "ABBD"}]}, "mark": {"type": "text", "fontSize": 8.8, "color": "#1A1A1A", "baseline": "middle"}, "encoding": {"text": {"field": "p"}}},
{"width": 186, "height": 158, "view": {"fill": "#EBEBEB", "stroke": null},
 "encoding": {
  "x": {"field": "x", "type": "quantitative", "scale": {"domain": [-0.1, 2.1], "nice": false, "zero": false}, "axis": {"values": [0,0.25,0.5,0.75,1,1.25,1.5,1.75,2], "labels": false, "ticks": false, "title": null, "gridWidth": {"condition": {"test": "datum.value % 0.5 === 0", "value": 1.1}, "value": 0.55}}},
  "y": {"field": "y", "type": "quantitative", "scale": {"domain": [-37, 1127], "nice": false, "zero": false}, "axis": {"values": [0,150,300,450,600,750,900,1050], "labelExpr": "datum.value % 300 === 0 ? format(datum.value, 'd') : ''", "tickOpacity": {"condition": {"test": "datum.value % 300 === 0", "value": 1}, "value": 0}, "gridWidth": {"condition": {"test": "datum.value % 300 === 0", "value": 1.1}, "value": 0.55}, "title": null}}
 },
 "layer": [
  {"data": {"name": "pts"}, "transform": [{"filter": "datum.p === 'ABBD'"}], "mark": {"type": "point", "filled": true, "size": 60, "color": "#26BFAE", "opacity": 0.6, "strokeWidth": 0, "clip": true}},
  {"data": {"name": "lines"}, "transform": [{"filter": "datum.p === 'ABBD'"}], "mark": {"type": "line", "color": "#000000", "strokeWidth": 2, "interpolate": "monotone", "clip": true}, "encoding": {"strokeDash": {"field": "loc", "type": "nominal", "title": "Location", "scale": {"domain": ["Mean", "tau = 0.05", "tau = 0.95"], "range": [[1,0],[6,5],[9,5,2,5]]}}}}
 ]
}
]},
{"spacing": 0, "vconcat": [
{"width": 186, "height": 20, "view": {"fill": "#D9D9D9", "stroke": null}, "data": {"values": [{"p": "NABBD"}]}, "mark": {"type": "text", "fontSize": 8.8, "color": "#1A1A1A", "baseline": "middle"}, "encoding": {"text": {"field": "p"}}},
{"width": 186, "height": 158, "view": {"fill": "#EBEBEB", "stroke": null},
 "encoding": {
  "x": {"field": "x", "type": "quantitative", "scale": {"domain": [-0.1, 2.1], "nice": false, "zero": false}, "axis": {"values": [0,0.25,0.5,0.75,1,1.25,1.5,1.75,2], "labelExpr": "datum.value % 0.5 === 0 ? format(datum.value, '.1f') : ''", "tickOpacity": {"condition": {"test": "datum.value % 0.5 === 0", "value": 1}, "value": 0}, "gridWidth": {"condition": {"test": "datum.value % 0.5 === 0", "value": 1.1}, "value": 0.55}, "title": null}},
  "y": {"field": "y", "type": "quantitative", "scale": {"domain": [-37, 1127], "nice": false, "zero": false}, "axis": {"values": [0,150,300,450,600,750,900,1050], "labelExpr": "datum.value % 300 === 0 ? format(datum.value, 'd') : ''", "tickOpacity": {"condition": {"test": "datum.value % 300 === 0", "value": 1}, "value": 0}, "gridWidth": {"condition": {"test": "datum.value % 300 === 0", "value": 1.1}, "value": 0.55}, "title": null}}
 },
 "layer": [
  {"data": {"name": "pts"}, "transform": [{"filter": "datum.p === 'NABBD'"}], "mark": {"type": "point", "filled": true, "size": 60, "color": "#26BFAE", "opacity": 0.6, "strokeWidth": 0, "clip": true}},
  {"data": {"name": "lines"}, "transform": [{"filter": "datum.p === 'NABBD'"}], "mark": {"type": "line", "color": "#000000", "strokeWidth": 2, "interpolate": "monotone", "clip": true}, "encoding": {"strokeDash": {"field": "loc", "type": "nominal", "title": "Location", "scale": {"domain": ["Mean", "tau = 0.05", "tau = 0.95"], "range": [[1,0],[6,5],[9,5,2,5]]}}}}
 ]
}
]}
]
},
{
"spacing": 7,
"vconcat": [
{"spacing": 0, "vconcat": [
{"width": 186, "height": 20, "view": {"fill": "#D9D9D9", "stroke": null}, "data": {"values": [{"p": "AFBBD"}]}, "mark": {"type": "text", "fontSize": 8.8, "color": "#1A1A1A", "baseline": "middle"}, "encoding": {"text": {"field": "p"}}},
{"width": 186, "height": 158, "view": {"fill": "#EBEBEB", "stroke": null},
 "encoding": {
  "x": {"field": "x", "type": "quantitative", "scale": {"domain": [-0.1, 2.1], "nice": false, "zero": false}, "axis": {"values": [0,0.25,0.5,0.75,1,1.25,1.5,1.75,2], "labels": false, "ticks": false, "title": null, "gridWidth": {"condition": {"test": "datum.value % 0.5 === 0", "value": 1.1}, "value": 0.55}}},
  "y": {"field": "y", "type": "quantitative", "scale": {"domain": [-37, 1127], "nice": false, "zero": false}, "axis": {"values": [0,150,300,450,600,750,900,1050], "labels": false, "ticks": false, "title": null, "gridWidth": {"condition": {"test": "datum.value % 300 === 0", "value": 1.1}, "value": 0.55}}}
 },
 "layer": [
  {"data": {"name": "pts"}, "transform": [{"filter": "datum.p === 'AFBBD'"}], "mark": {"type": "point", "filled": true, "size": 60, "color": "#26BFAE", "opacity": 0.6, "strokeWidth": 0, "clip": true}},
  {"data": {"name": "lines"}, "transform": [{"filter": "datum.p === 'AFBBD'"}], "mark": {"type": "line", "color": "#000000", "strokeWidth": 2, "interpolate": "monotone", "clip": true}, "encoding": {"strokeDash": {"field": "loc", "type": "nominal", "title": "Location", "scale": {"domain": ["Mean", "tau = 0.05", "tau = 0.95"], "range": [[1,0],[6,5],[9,5,2,5]]}}}}
 ]
}
]},
{"spacing": 0, "vconcat": [
{"width": 186, "height": 20, "view": {"fill": "#D9D9D9", "stroke": null}, "data": {"values": [{"p": "STORD"}]}, "mark": {"type": "text", "fontSize": 8.8, "color": "#1A1A1A", "baseline": "middle"}, "encoding": {"text": {"field": "p"}}},
{"width": 186, "height": 158, "view": {"fill": "#EBEBEB", "stroke": null},
 "encoding": {
  "x": {"field": "x", "type": "quantitative", "scale": {"domain": [-0.1, 2.1], "nice": false, "zero": false}, "axis": {"values": [0,0.25,0.5,0.75,1,1.25,1.5,1.75,2], "labelExpr": "datum.value % 0.5 === 0 ? format(datum.value, '.1f') : ''", "tickOpacity": {"condition": {"test": "datum.value % 0.5 === 0", "value": 1}, "value": 0}, "gridWidth": {"condition": {"test": "datum.value % 0.5 === 0", "value": 1.1}, "value": 0.55}, "title": "Distance to Origin (Euclidean)", "titlePadding": 2}},
  "y": {"field": "y", "type": "quantitative", "scale": {"domain": [-37, 1127], "nice": false, "zero": false}, "axis": {"values": [0,150,300,450,600,750,900,1050], "labels": false, "ticks": false, "title": null, "gridWidth": {"condition": {"test": "datum.value % 300 === 0", "value": 1.1}, "value": 0.55}}}
 },
 "layer": [
  {"data": {"name": "pts"}, "transform": [{"filter": "datum.p === 'STORD'"}], "mark": {"type": "point", "filled": true, "size": 60, "color": "#26BFAE", "opacity": 0.6, "strokeWidth": 0, "clip": true}},
  {"data": {"name": "lines"}, "transform": [{"filter": "datum.p === 'STORD'"}], "mark": {"type": "line", "color": "#000000", "strokeWidth": 2, "interpolate": "monotone", "clip": true}, "encoding": {"strokeDash": {"field": "loc", "type": "nominal", "title": "Location", "scale": {"domain": ["Mean", "tau = 0.05", "tau = 0.95"], "range": [[1,0],[6,5],[9,5,2,5]]}}}}
 ]
}
]}
]
},
{"spacing": 0, "vconcat": [
{"width": 186, "height": 20, "view": {"fill": "#D9D9D9", "stroke": null}, "data": {"values": [{"p": "DND"}]}, "mark": {"type": "text", "fontSize": 8.8, "color": "#1A1A1A", "baseline": "middle"}, "encoding": {"text": {"field": "p"}}},
{"width": 186, "height": 158, "view": {"fill": "#EBEBEB", "stroke": null},
 "encoding": {
  "x": {"field": "x", "type": "quantitative", "scale": {"domain": [-0.1, 2.1], "nice": false, "zero": false}, "axis": {"values": [0,0.25,0.5,0.75,1,1.25,1.5,1.75,2], "labelExpr": "datum.value % 0.5 === 0 ? format(datum.value, '.1f') : ''", "tickOpacity": {"condition": {"test": "datum.value % 0.5 === 0", "value": 1}, "value": 0}, "gridWidth": {"condition": {"test": "datum.value % 0.5 === 0", "value": 1.1}, "value": 0.55}, "title": null}},
  "y": {"field": "y", "type": "quantitative", "scale": {"domain": [-37, 1127], "nice": false, "zero": false}, "axis": {"values": [0,150,300,450,600,750,900,1050], "labels": false, "ticks": false, "title": null, "gridWidth": {"condition": {"test": "datum.value % 300 === 0", "value": 1.1}, "value": 0.55}}}
 },
 "layer": [
  {"data": {"name": "pts"}, "transform": [{"filter": "datum.p === 'DND'"}], "mark": {"type": "point", "filled": true, "size": 60, "color": "#26BFAE", "opacity": 0.6, "strokeWidth": 0, "clip": true}},
  {"data": {"name": "lines"}, "transform": [{"filter": "datum.p === 'DND'"}], "mark": {"type": "line", "color": "#000000", "strokeWidth": 2, "interpolate": "monotone", "clip": true}, "encoding": {"strokeDash": {"field": "loc", "type": "nominal", "title": "Location", "scale": {"domain": ["Mean", "tau = 0.05", "tau = 0.95"], "range": [[1,0],[6,5],[9,5,2,5]]}}}}
 ]
}
]}
],
"spacing": 6,
"config": {
 "font": "Liberation Sans",
 "view": {"stroke": null},
 "axis": {"domain": false, "labelColor": "#4D4D4D", "labelFontSize": 8.8, "labelPadding": 2, "labelFlush": false, "labelOverlap": false, "labelBound": false, "tickColor": "#333333", "tickSize": 2.75, "tickWidth": 1, "gridColor": "#FFFFFF", "titleFontSize": 11, "titleFontWeight": "normal", "titleColor": "#000000"},
 "legend": {"orient": "none", "legendX": 586, "legendY": 154, "padding": 0, "titleFontSize": 11, "titleFontWeight": "normal", "titleColor": "#000000", "titlePadding": 6, "labelFontSize": 8.8, "labelColor": "#000000", "labelOffset": 12, "symbolType": "stroke", "symbolStrokeColor": "#000000", "symbolStrokeWidth": 2, "symbolSize": 289, "rowPadding": 6}
}
}
